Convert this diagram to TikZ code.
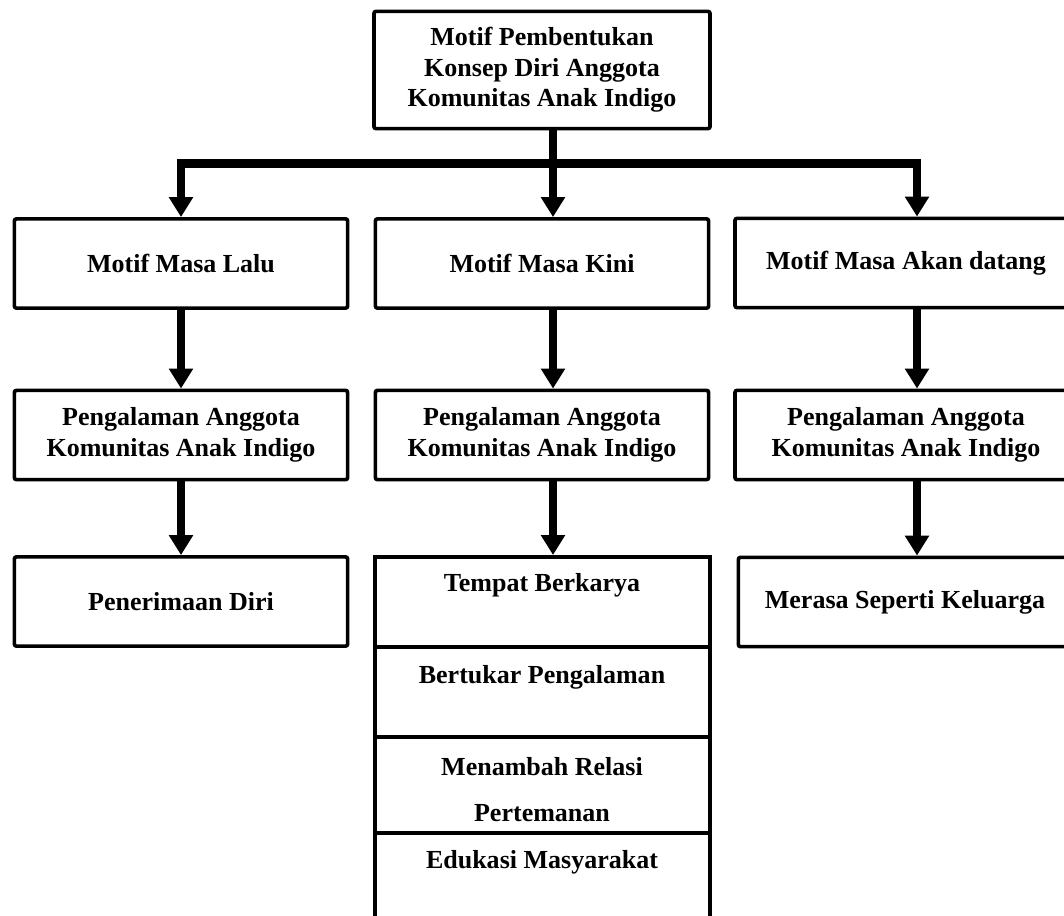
\documentclass[tikz,border=0pt]{standalone}
\usepackage{fontspec}
\setmainfont{Liberation Serif}
\usetikzlibrary{positioning,arrows.meta,calc}

\begin{document}
\begin{tikzpicture}[
x=0.025cm, y=-0.025cm,
box/.style={
  draw,
  line width=2.6pt,
  rounded corners=1.5pt,
  minimum width=8.33cm,
  minimum height=2.23cm,
  inner sep=0pt,
  align=center,
  font=\bfseries\fontsize{18.5}{21.7}\selectfont},
celltext/.style={
  inner sep=0pt,
  align=center,
  font=\bfseries\fontsize{18.5}{21.7}\selectfont},
link/.style={line width=6pt},
arr/.style={
  line width=6pt,
  -{Triangle[width=0.58cm,length=0.5cm]}}
]
\useasboundingbox (0,0) rectangle (1064,915);
\clip (0,0) rectangle (1064,915);

\node[box, minimum width=8.4cm, minimum height=2.93cm] (motif) at (542,70)
  {Motif Pembentukan\\Konsep Diri Anggota\\Komunitas Anak Indigo};

\node[box] (lalu) at (181,263.5) {Motif Masa Lalu};
\node[box] (kini) at (542,263.5) {Motif Masa Kini};
\node[box, minimum width=8.55cm] (datang) at (906,263) {Motif Masa Akan datang};

\node[box] (lalu2) at (181,435) {Pengalaman Anggota\\Komunitas Anak Indigo};
\node[box] (kini2) at (542,435) {Pengalaman Anggota\\Komunitas Anak Indigo};
\node[box, minimum width=8.55cm] (datang2) at (906,435) {Pengalaman Anggota\\Komunitas Anak Indigo};

\node[box] (diri) at (181,601.5) {Penerimaan Diri};
\node[box] (keluarga) at (905,602) {Merasa Seperti Keluarga};

% kolom tengah bawah
\coordinate (stack) at (542,555);
\draw[line width=2.6pt] (375,930) |- (710,557) -- (710,930);
\foreach \y in {647,737,833}
  \draw[line width=2.6pt] (375,\y) -- (710,\y);
\node[celltext] (tempat) at (542,585) {Tempat Berkarya};
\node[celltext] (tukar) at (542,677) {Bertukar Pengalaman};
\node[celltext] (relasi) at (542,790) {Menambah Relasi\\[11pt]Pertemanan};
\node[celltext] (edukasi) at (542,862) {Edukasi Masyarakat};

\draw[link] ($(motif.south)+(11,0)$) -- ++(0,33) coordinate (split);
\draw[arr] (split) -| (lalu.north);
\draw[arr] (split) -- ($(kini.north)+(11,0)$);
\draw[arr] (split) -| ($(datang.north)+(11,0)$);

\draw[arr] (lalu.south) -- (lalu2.north);
\draw[arr] ($(kini.south)+(11,0)$) -- ($(kini2.north)+(11,0)$);
\draw[arr] ($(datang.south)+(11,0)$) -- ($(datang2.north)+(11,0)$);

\draw[arr] (lalu2.south) -- (diri.north);
\draw[arr] ($(kini2.south)+(11,0)$) -- ($(stack)+(11,0)$);
\draw[arr] ($(datang2.south)+(11,0)$) -- ($(keluarga.north)+(12,0)$);
\end{tikzpicture}
\end{document}
